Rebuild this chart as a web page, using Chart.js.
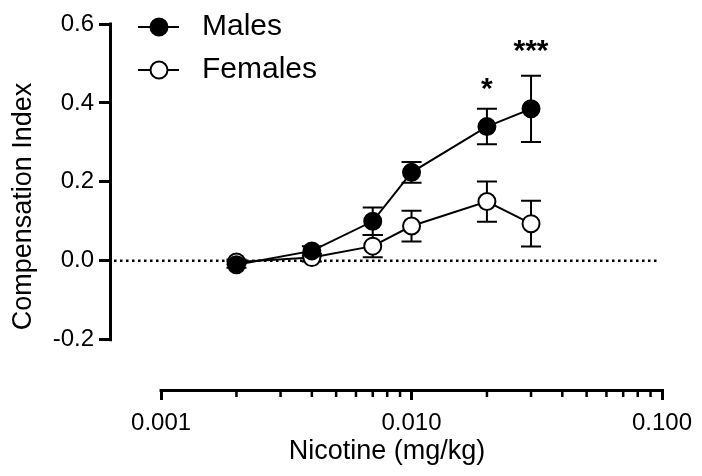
<!DOCTYPE html>
<html>
<head>
<meta charset="utf-8">
<script src="https://cdn.jsdelivr.net/npm/chart.js@4.4.0/dist/chart.umd.min.js"></script>
<style>
html, body { margin: 0; padding: 0; background: #fff; }
#wrap { width: 702px; height: 476px; }
</style>
</head>
<body>
<div id="wrap"><canvas id="chart" width="702" height="476"></canvas></div>
<script>
// Nicotine doses (mg/kg) and means +/- SEM
const doses = [0.002, 0.004, 0.007, 0.01, 0.02, 0.03];
const males = [-0.01, 0.025, 0.10, 0.224, 0.34, 0.385];
const malesErr = [0.008, 0.012, 0.035, 0.026, 0.045, 0.084];
const females = [-0.003, 0.008, 0.037, 0.088, 0.15, 0.094];
const femalesErr = [0.006, 0.01, 0.028, 0.039, 0.051, 0.058];

// significance marks
const sigDoses = [0.02, 0.03];
const sigMarks = ["*", "***"];
const sigLevels = [0.456, 0.553];

// axis ticks
const yTicks = [-0.2, 0, 0.2, 0.4, 0.6];
const yTickLabels = ["-0.2", "0.0", "0.2", "0.4", "0.6"];
const xMajorTicks = [0.001, 0.01, 0.1];
const xTickLabels = ["0.001", "0.010", "0.100"];
const xMinorSteps = [2, 3, 4, 5, 6, 7, 8, 9];

const FONT = "'Liberation Sans', Arial, sans-serif";

function xTickList() {
    const t = [];
    xMajorTicks.forEach((d, i) => {
        t.push({ value: d, major: true });
        if (i < xMajorTicks.length - 1) {
            xMinorSteps.forEach((m) => t.push({ value: m * d, major: false }));
        }
    });
    return t;
}

const series = [
    { label: "Males", values: males, err: malesErr, fill: "#000" },
    { label: "Females", values: females, err: femalesErr, fill: "#fff" },
];

const prismPlugin = {
    id: "prism",
    beforeDatasetsDraw(chart) {
        const { ctx, chartArea, scales } = chart;
        const xs = scales.x, ys = scales.y;
        ctx.save();
        ctx.strokeStyle = "#000";

        // dotted zero line
        ctx.lineWidth = 2.5;
        ctx.setLineDash([2.5, 3.5]);
        ctx.beginPath();
        ctx.moveTo(chartArea.left + 2, ys.getPixelForValue(0));
        ctx.lineTo(chartArea.right - 4, ys.getPixelForValue(0));
        ctx.stroke();
        ctx.setLineDash([]);

        // axis lines
        ctx.lineWidth = 3;
        ctx.beginPath();
        ctx.moveTo(chartArea.left - 1.5, ys.getPixelForValue(yTicks[yTicks.length - 1]) - 1.5);
        ctx.lineTo(chartArea.left - 1.5, ys.getPixelForValue(yTicks[0]) + 1.5);
        ctx.moveTo(xs.getPixelForValue(xMajorTicks[0]) - 1.5, chartArea.bottom + 1.5);
        ctx.lineTo(xs.getPixelForValue(xMajorTicks[xMajorTicks.length - 1]) + 1.5, chartArea.bottom + 1.5);
        ctx.stroke();

        // minor ticks
        ctx.lineWidth = 2.5;
        ctx.beginPath();
        xTickList().filter((t) => !t.major).forEach((t) => {
            const px = xs.getPixelForValue(t.value);
            ctx.moveTo(px, chartArea.bottom);
            ctx.lineTo(px, chartArea.bottom + 8);
        });
        ctx.stroke();

        // error bars
        ctx.lineWidth = 2;
        series.forEach((s) => {
            doses.forEach((d, i) => {
                const px = xs.getPixelForValue(d);
                const top = ys.getPixelForValue(s.values[i] + s.err[i]);
                const bot = ys.getPixelForValue(s.values[i] - s.err[i]);
                ctx.beginPath();
                ctx.moveTo(px, top);
                ctx.lineTo(px, bot);
                ctx.moveTo(px - 10, top);
                ctx.lineTo(px + 10, top);
                ctx.moveTo(px - 10, bot);
                ctx.lineTo(px + 10, bot);
                ctx.stroke();
            });
        });
        ctx.restore();
    },
    afterDatasetsDraw(chart) {
        const { ctx, scales } = chart;
        ctx.save();
        ctx.fillStyle = "#000";
        ctx.textAlign = "center";
        ctx.textBaseline = "alphabetic";
        ctx.font = "bold 30px " + FONT;
        sigDoses.forEach((d, i) => {
            ctx.fillText(sigMarks[i], scales.x.getPixelForValue(d), scales.y.getPixelForValue(sigLevels[i]) + 17);
        });

        // legend
        const rows = [27, 70];
        series.forEach((s, i) => {
            const y = rows[i];
            ctx.strokeStyle = "#000";
            ctx.lineWidth = 2;
            ctx.beginPath();
            ctx.moveTo(138, y);
            ctx.lineTo(179, y);
            ctx.stroke();
            ctx.beginPath();
            ctx.arc(159, y, 8.5, 0, Math.PI * 2);
            ctx.fillStyle = s.fill;
            ctx.fill();
            ctx.stroke();
            ctx.fillStyle = "#000";
            ctx.textAlign = "left";
            ctx.textBaseline = "middle";
            ctx.font = "30px " + FONT;
            ctx.fillText(s.label, 202, y);
        });
        ctx.restore();
    },
};

const ctx = document.getElementById("chart").getContext("2d");

const chart = new Chart(ctx, {
    type: "line",
    data: {
        datasets: series.map((s) => ({
            label: s.label,
            data: doses.map((d, i) => ({ x: d, y: s.values[i] })),
            borderColor: "#000",
            borderWidth: 2,
            pointRadius: 8.5,
            pointBackgroundColor: s.fill,
            pointBorderColor: "#000",
            pointBorderWidth: 2,
            fill: false,
            tension: 0,
        })),
    },
    options: {
        responsive: false,
        animation: false,
        events: [],
        layout: { padding: { left: 3, top: 24, right: 40, bottom: 8 } },
        plugins: { legend: { display: false }, tooltip: { enabled: false } },
        scales: {
            x: {
                type: "logarithmic",
                bounds: "data",
                min: 0.000637,
                max: 0.1,
                afterBuildTicks: (scale) => { scale.ticks = xTickList(); },
                afterFit: (scale) => { scale.height = 79; },
                ticks: {
                    autoSkip: false,
                    maxRotation: 0,
                    padding: 9,
                    color: "#000",
                    font: { family: FONT, size: 24 },
                    callback: (v) => {
                        const i = xMajorTicks.indexOf(v);
                        return i >= 0 ? xTickLabels[i] : "";
                    },
                },
                grid: {
                    drawOnChartArea: false,
                    tickLength: 11,
                    tickWidth: 3,
                    tickColor: (c) => (c.tick && xMajorTicks.includes(c.tick.value) ? "#000" : "rgba(0,0,0,0)"),
                },
                border: { display: false },
                title: {
                    display: true,
                    text: "Nicotine (mg/kg)",
                    color: "#000",
                    font: { family: FONT, size: 27 },
                    padding: { top: 0, bottom: 0 },
                },
            },
            y: {
                type: "linear",
                min: -0.325,
                max: 0.6,
                afterBuildTicks: (scale) => { scale.ticks = yTicks.map((v) => ({ value: v })); },
                afterFit: (scale) => { scale.width = 109; },
                ticks: {
                    padding: 5,
                    color: "#000",
                    font: { family: FONT, size: 24 },
                    callback: (v) => yTickLabels[yTicks.indexOf(v)],
                },
                grid: {
                    drawOnChartArea: false,
                    tickLength: 13,
                    tickWidth: 3,
                    tickColor: "#000",
                },
                border: { display: false },
                title: {
                    display: true,
                    text: "Compensation Index",
                    color: "#000",
                    font: { family: FONT, size: 27 },
                    padding: { top: 4, bottom: 0 },
                },
            },
        },
    },
    plugins: [prismPlugin],
});
</script>
</body>
</html>
